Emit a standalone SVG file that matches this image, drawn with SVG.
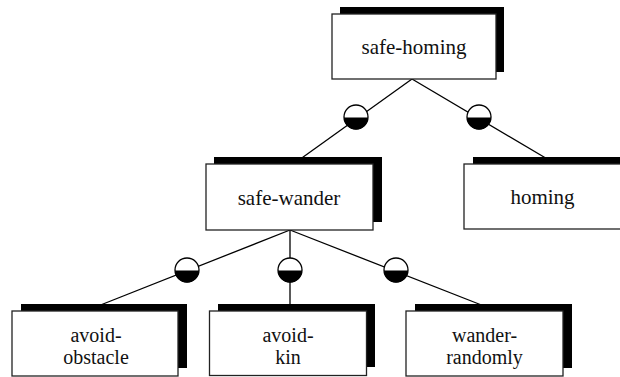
<svg xmlns="http://www.w3.org/2000/svg" width="620" height="377" viewBox="0 0 620 377">
  <style>
    .shadow { fill: #000; }
    .box { fill: #fff; stroke: #222; stroke-width: 1.3; }
    .label { font-size: 21px; fill: #111; text-anchor: middle; }
    .label.two { font-size: 20px; }
    .edge { stroke: #000; stroke-width: 1.3; fill: none; }
    .knot { fill: #fff; stroke: #000; stroke-width: 1.3; }
    .knot-half { fill: #000; }
  </style>
  <defs>
    <g id="knot">
      <circle class="knot" cx="0" cy="0" r="12"/>
      <path class="knot-half" d="M -12 0.5 A 12 12 0 0 0 12 0.5 Z"/>
    </g>
  </defs>
  <rect width="620" height="377" fill="#fff"/>

  <!-- connectors with their half-filled junction circles -->
  <g id="connectors">
    <line class="edge" x1="412" y1="79" x2="299" y2="160"/>
    <line class="edge" x1="412" y1="79" x2="549" y2="160"/>
    <line class="edge" x1="290" y1="230" x2="98" y2="306"/>
    <line class="edge" x1="290" y1="230" x2="290" y2="306"/>
    <line class="edge" x1="290" y1="230" x2="484" y2="306"/>
    <use href="#knot" x="356" y="117"/>
    <use href="#knot" x="479" y="117"/>
    <use href="#knot" x="187" y="270"/>
    <use href="#knot" x="290" y="270"/>
    <use href="#knot" x="396" y="270"/>
  </g>

  <g id="nodes" font-family="Liberation Serif, Times New Roman, DejaVu Serif, serif">
    <g id="safe-homing">
      <rect class="shadow" x="340" y="7" width="164" height="65"/>
      <rect class="box" x="332" y="14" width="164" height="65"/>
      <text class="label" x="414" y="54">safe-homing</text>
    </g>

    <g id="safe-wander">
      <rect class="shadow" x="214" y="157" width="168" height="65"/>
      <rect class="box" x="206" y="164" width="167" height="66"/>
      <text class="label" x="289" y="205">safe-wander</text>
    </g>

    <g id="homing">
      <rect class="shadow" x="473" y="157" width="160" height="65"/>
      <rect class="box" x="464" y="164" width="157" height="65"/>
      <text class="label" x="542.5" y="204">homing</text>
    </g>

    <g id="avoid-obstacle">
      <rect class="shadow" x="21" y="304" width="166" height="64"/>
      <rect class="box" x="12" y="311" width="166" height="65"/>
      <text class="label two"><tspan x="96" y="342">avoid-</tspan><tspan x="96" y="364">obstacle</tspan></text>
    </g>

    <g id="avoid-kin">
      <rect class="shadow" x="218" y="304" width="157" height="63"/>
      <rect class="box" x="209.5" y="311" width="157" height="64.5"/>
      <text class="label two"><tspan x="288" y="342">avoid-</tspan><tspan x="288" y="364">kin</tspan></text>
    </g>

    <g id="wander-randomly">
      <rect class="shadow" x="415" y="304" width="157" height="64"/>
      <rect class="box" x="406" y="311" width="157" height="65"/>
      <text class="label two"><tspan x="484.5" y="342">wander-</tspan><tspan x="484.5" y="364">randomly</tspan></text>
    </g>
  </g>
</svg>
